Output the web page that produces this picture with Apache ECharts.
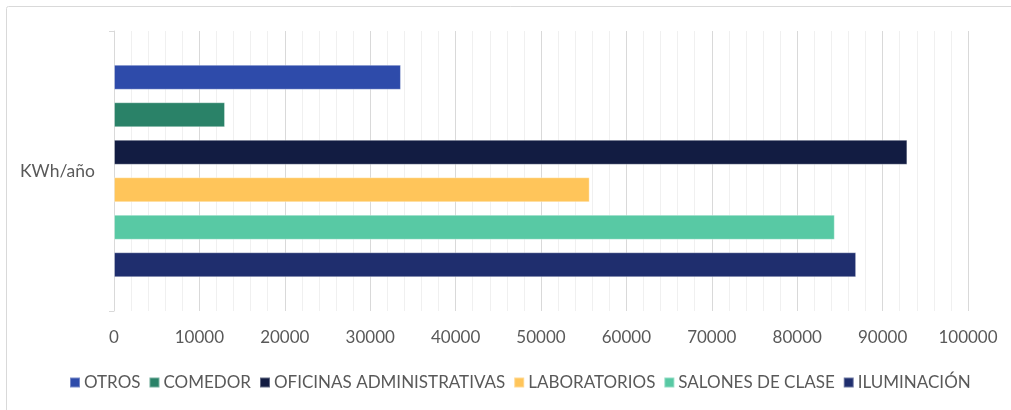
<!DOCTYPE html>
<html>
<head>
<meta charset="utf-8">
<script src="https://cdn.jsdelivr.net/npm/echarts@6/dist/echarts.min.js"></script>
<style>
  html, body { margin: 0; padding: 0; background: #fff; }
  #chart { width: 1011px; height: 410px; }
</style>
</head>
<body>
<div id="chart"></div>
<script>
let categories = ['KWh/año']
let seriesNames = ['OTROS', 'COMEDOR', 'OFICINAS ADMINISTRATIVAS', 'LABORATORIOS', 'SALONES DE CLASE', 'ILUMINACIÓN']
let seriesValues = [33600, 13000, 92900, 55700, 84400, 86900]
let seriesColors = ['#2e4baa', '#2a8268', '#121c42', '#ffc55a', '#58c9a4', '#1f2e6e']

let font = 'Lato'
var chart = echarts.init(document.getElementById('chart'))

let option = {
  animation: false,
  textStyle: { fontFamily: font },
  graphic: [{
    type: 'rect',
    shape: { x: 6.5, y: 6.5, width: 1010, height: 410, r: 2 },
    style: { fill: 'none', stroke: '#d9d9d9', lineWidth: 1 },
    silent: true
  }],
  grid: {
    left: 114,
    right: 43,
    top: 31,
    bottom: 99
  },
  legend: {
    top: 369,
    left: 64,
    icon: 'rect',
    itemWidth: 10,
    itemHeight: 10,
    itemGap: 8,
    data: seriesNames,
    textStyle: {
      color: '#595959',
      fontSize: 17,
      fontFamily: font,
      padding: [0, 0, 0, -1]
    }
  },
  xAxis: {
    type: 'value',
    min: 0,
    max: 100000,
    interval: 10000,
    axisLine: { show: false },
    axisTick: { show: false },
    axisLabel: {
      color: '#595959',
      fontSize: 17,
      margin: 18,
      formatter: v => String(v)
    },
    splitLine: { show: true, lineStyle: { color: '#d9d9d9' } },
    minorTick: { show: false, splitNumber: 5 },
    minorSplitLine: { show: true, lineStyle: { color: '#f0f0f0' } }
  },
  yAxis: {
    type: 'category',
    inverse: true,
    data: categories,
    axisLine: { show: true, lineStyle: { color: '#d9d9d9' } },
    axisTick: { show: true, length: 5, lineStyle: { color: '#d9d9d9' } },
    axisLabel: {
      color: '#595959',
      fontSize: 17.5,
      margin: 19
    }
  },
  series: seriesNames.map((name, i) => {
    return {
      name: name,
      type: 'bar',
      data: [seriesValues[i]],
      barWidth: 25,
      barGap: '50%',
      itemStyle: {
        color: seriesColors[i],
        borderColor: 'rgba(255,255,255,0.35)',
        borderWidth: 1
      }
    }
  })
}
chart.setOption(option)
</script>
</body>
</html>
